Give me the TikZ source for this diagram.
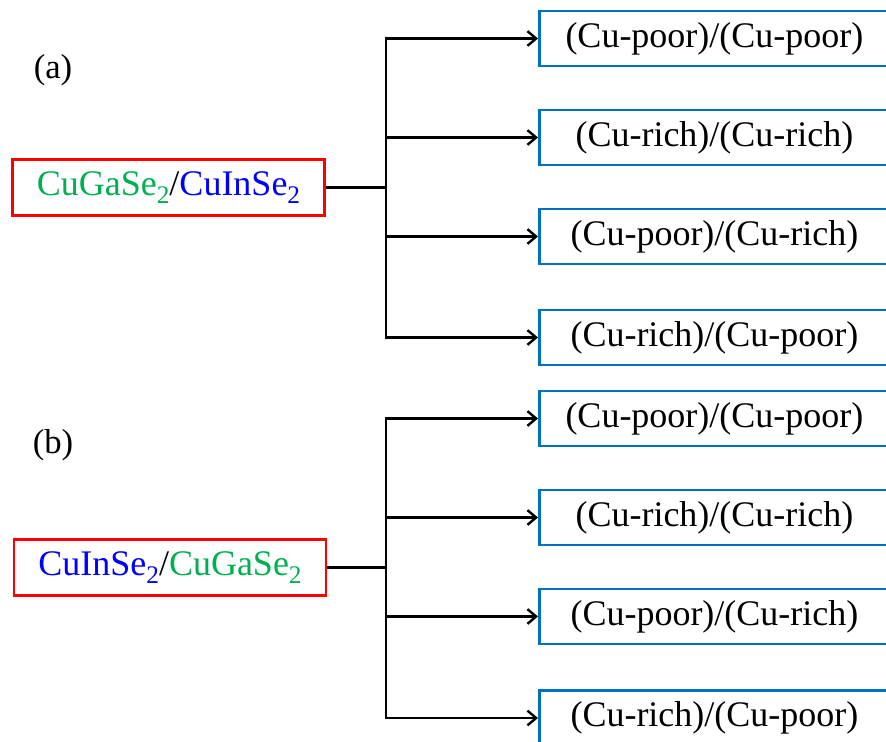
\documentclass[tikz,border=0pt]{standalone}
\usepackage{fontspec}
\setmainfont{Liberation Serif}
\usetikzlibrary{arrows.meta}
\definecolor{cgsgreen}{RGB}{0,176,80}
\definecolor{cisblue}{RGB}{0,0,255}
\definecolor{boxblue}{RGB}{0,112,192}
% lowered, slightly reduced subscript digit
\newcommand{\subtwo}{\raisebox{-0.22em}{\fontsize{19}{22}\selectfont 2}}
\newcommand{\cgs}{\textcolor{cgsgreen}{CuGaSe\subtwo}}
\newcommand{\cis}{\textcolor{cisblue}{CuInSe\subtwo}}
\begin{document}
\begin{tikzpicture}[x=0.75pt,y=-0.75pt,
  txt/.style={font=\fontsize{27}{32}\selectfont, inner sep=0pt},
  srcbox/.style={txt, draw=red, line width=2.2pt, minimum width=234pt, minimum height=42.5pt},
  outbox/.style={txt, draw=boxblue, line width=2.2pt, minimum width=262.5pt, minimum height=41.25pt, anchor=west},
  tag/.style={font=\fontsize{26}{30}\selectfont, inner sep=0pt},
  link/.style={line width=1.8pt, line join=miter},
  arr/.style={link, -{Straight Barb[length=6.5pt, width=11pt, line width=1.8pt]}}]
\useasboundingbox (0,0) rectangle (886,742);
\clip (0,0) rectangle (886,742);

% (a) CuGaSe2 / CuInSe2
\node[tag] (la) at (53,70) {(a)};
\node[srcbox] (srcA) at (168.5,187.5) {\cgs/\cis};
\coordinate (ja) at (386,187.5);
\node[outbox] (a1) at (538,38.5) {(Cu-poor)/(Cu-poor)};
\node[outbox] (a2) at (538,137.5) {(Cu-rich)/(Cu-rich)};
\node[outbox] (a3) at (538,236.5) {(Cu-poor)/(Cu-rich)};
\node[outbox] (a4) at (538,337.5) {(Cu-rich)/(Cu-poor)};
\draw[link] (srcA.east) -- (ja);
\foreach \t in {a1,a2,a3,a4} \draw[arr] (ja) |- (\t.west);

% (b) CuInSe2 / CuGaSe2
\node[tag] (lb) at (53,445) {(b)};
\node[srcbox] (srcB) at (170,567.5) {\cis/\cgs};
\coordinate (jb) at (386,567.5);
\node[outbox] (b1) at (538,418.5) {(Cu-poor)/(Cu-poor)};
\node[outbox] (b2) at (538,517.5) {(Cu-rich)/(Cu-rich)};
\node[outbox] (b3) at (538,616.5) {(Cu-poor)/(Cu-rich)};
\node[outbox] (b4) at (538,718) {(Cu-rich)/(Cu-poor)};
\draw[link] (srcB.east) -- (jb);
\foreach \t in {b1,b2,b3,b4} \draw[arr] (jb) |- (\t.west);
\end{tikzpicture}
\end{document}
